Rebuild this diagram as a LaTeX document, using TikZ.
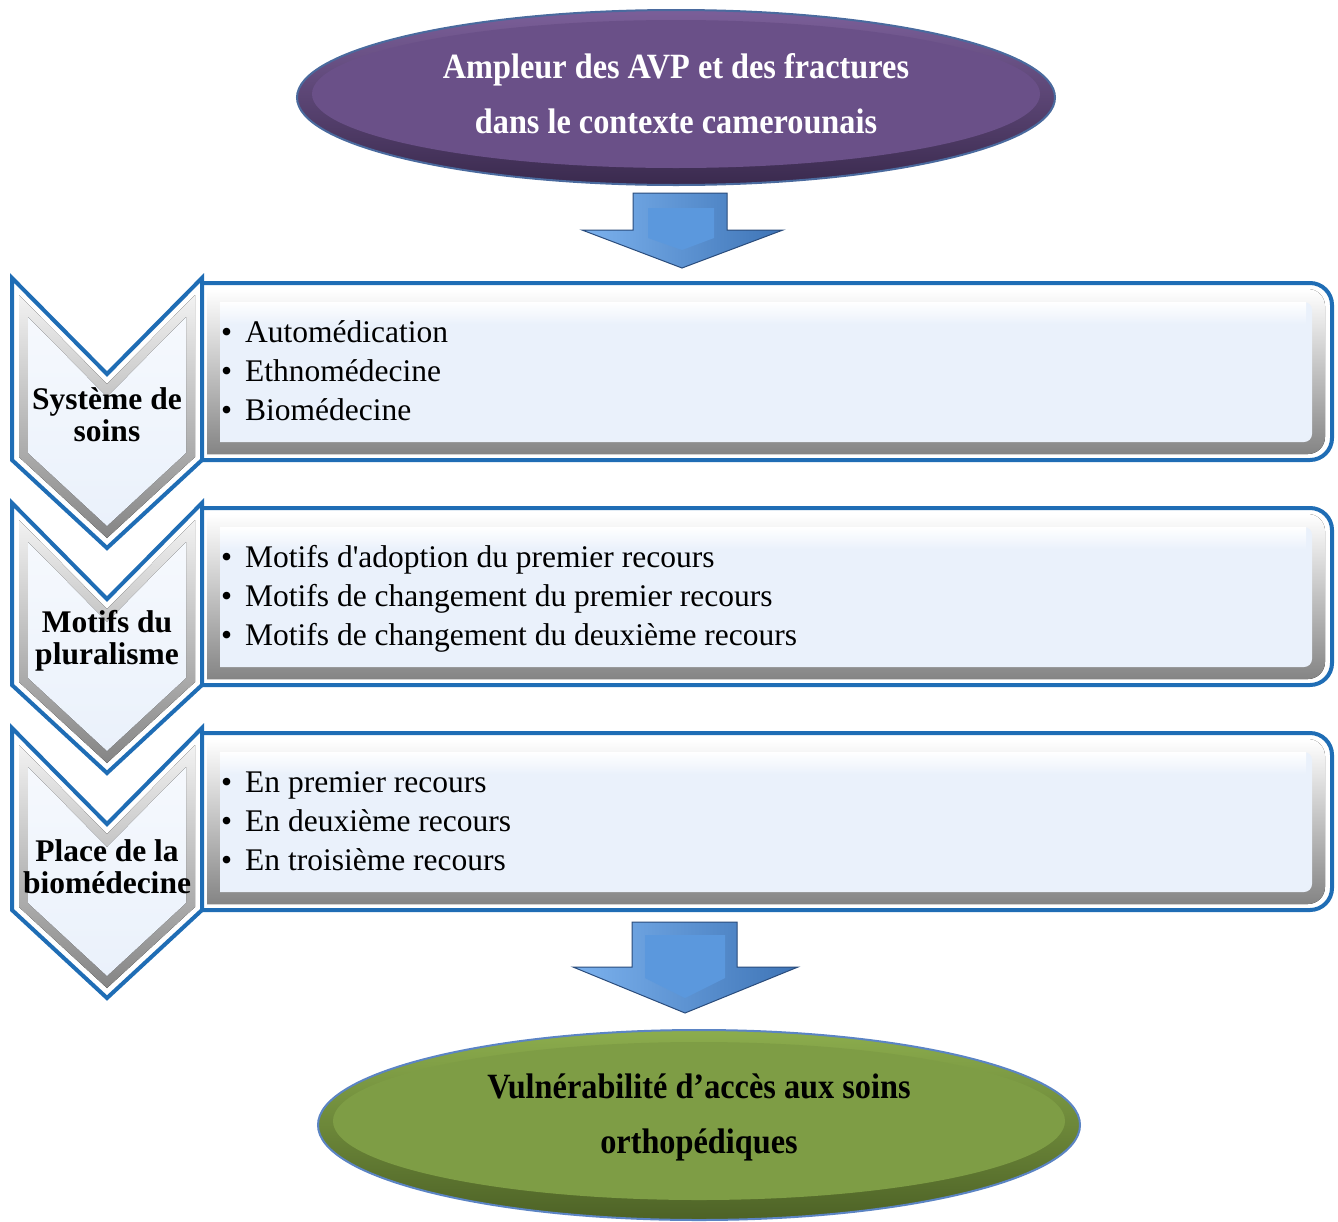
\documentclass[tikz,border=0pt]{standalone}
\usepackage{fontspec}
\setmainfont{Liberation Serif}
\usetikzlibrary{shapes.geometric}
\definecolor{bluebd}{HTML}{1F6DB5}
\definecolor{face}{HTML}{EAF1FB}
\definecolor{purp}{HTML}{6A5088}
\definecolor{purpdk}{HTML}{3A2A4E}
\definecolor{purplt}{HTML}{7B5F99}
\definecolor{grn}{HTML}{7E9D45}
\definecolor{grndk}{HTML}{4D6226}
\definecolor{grnlt}{HTML}{8CAD4D}
\definecolor{rimp}{HTML}{4A6A9E}
\definecolor{rimg}{HTML}{5B84C4}
\definecolor{arrowfill}{HTML}{5B98DD}
\definecolor{arrowlt}{HTML}{7CB2EE}
\definecolor{arrowmd}{HTML}{3E74B6}
\definecolor{arrowdk}{HTML}{2A4C7C}
\tikzset{
  boxline/.style={draw=bluebd, line width=4pt, fill=white, line join=miter},
  bevelshade/.style={top color=white, middle color=white!84!black, bottom color=white!52!black},
  chevbevel/.style={top color=white!95!black, bottom color=white!52!black},
  chevface/.style={top color=white!55!face, bottom color=face},
  itemtext/.style={font=\fontsize{31.5}{38}\selectfont, anchor=base west, inner sep=0pt},
  chevtext/.style={font=\fontsize{31.5}{32}\selectfont\bfseries, align=center, inner sep=0pt},
  elltext/.style={font=\fontsize{32.3}{55}\selectfont\bfseries, align=center, inner sep=0pt},
  arrowouter/.style={draw=arrowdk, line width=1pt, left color=arrowlt, right color=arrowmd},
  arrowface/.style={fill=arrowfill},
}
\newcommand\tallline[1]{\scalebox{1}[1.1]{#1}}
\newcommand\rowbox{%
  \draw[boxline] (200,5) -- (1310,5) arc[start angle=-90,end angle=0,radius=22]
     -- (1332,160) arc[start angle=0,end angle=90,radius=22] -- (200,182) -- cycle;
  \fill[bevelshade] (207,11) -- (1308,11) arc[start angle=-90,end angle=0,radius=17]
     -- (1325,159) arc[start angle=0,end angle=90,radius=17] -- (207,176) -- cycle;
  \fill[fill=face] (220,24) -- (1304,24) arc[start angle=-90,end angle=0,radius=8]
     -- (1312,156) arc[start angle=0,end angle=90,radius=8] -- (220,164) -- cycle;
  \fill[top color=white, bottom color=face] (220,24) rectangle (1306,46);
}
\newcommand\chevshape{%
  \draw[boxline] (12,0) -- (107,96) -- (202,0) -- (202,182) -- (107,270) -- (12,182) -- cycle;
  \fill[chevbevel] (19,17) -- (107,106) -- (195,17) -- (195,179) -- (107,260) -- (19,179) -- cycle;
  \fill[chevface] (28,39) -- (107,119) -- (186,39) -- (186,175) -- (107,248) -- (28,175) -- cycle;
}
\begin{document}
\begin{tikzpicture}[x=1pt,y=-1pt]
\useasboundingbox (0,0) rectangle (1338,1221);
\fill[white] (0,0) rectangle (1338,1221);

% top ellipse
\node[ellipse, minimum width=758pt, minimum height=175pt, inner sep=0pt,
      top color=purplt, bottom color=purpdk, draw=rimp, line width=2pt] (topouter) at (676,97.5) {};
\node[ellipse, minimum width=728pt, minimum height=148pt, inner sep=0pt, fill=purp] (topinner) at (676,94) {};
\node[elltext, text=white] (toptext) at (676,93.5) {\tallline{Ampleur des AVP et des fractures}\\\tallline{dans le contexte camerounais}};

% top arrow
\draw[arrowouter] (633,193) -- (727,193) -- (727,230) -- (783,230) -- (682,268) -- (582,230) -- (633,230) -- cycle;
\fill[arrowface] (648,208) -- (714,208) -- (714,238) -- (682,250) -- (648,238) -- cycle;

% rows
\begin{scope}[shift={(0,278)}]
  \rowbox
  \chevshape
  \node[chevtext] (l1) at (107,137) {Système de\\soins};
  \node[itemtext] (i1a) at (221,64) {\makebox[24pt][l]{\textbullet}Automédication};
  \node[itemtext] (i1b) at (221,103) {\makebox[24pt][l]{\textbullet}Ethnomédecine};
  \node[itemtext] (i1c) at (221,142) {\makebox[24pt][l]{\textbullet}Biomédecine};
\end{scope}
\begin{scope}[shift={(0,503)}]
  \rowbox
  \chevshape
  \node[chevtext] (l2) at (107,138) {Motifs du\\pluralisme};
  \node[itemtext] (i2a) at (221,64) {\makebox[24pt][l]{\textbullet}Motifs d\textquotesingle adoption du premier recours};
  \node[itemtext] (i2b) at (221,103) {\makebox[24pt][l]{\textbullet}Motifs de changement du premier recours};
  \node[itemtext] (i2c) at (221,142) {\makebox[24pt][l]{\textbullet}Motifs de changement du deuxième recours};
\end{scope}
\begin{scope}[shift={(0,728)}]
  \rowbox
  \chevshape
  \node[chevtext] (l3) at (107,139) {Place de la\\biomédecine};
  \node[itemtext] (i3a) at (221,64) {\makebox[24pt][l]{\textbullet}En premier recours};
  \node[itemtext] (i3b) at (221,103) {\makebox[24pt][l]{\textbullet}En deuxième recours};
  \node[itemtext] (i3c) at (221,142) {\makebox[24pt][l]{\textbullet}En troisième recours};
\end{scope}

% bottom arrow
\draw[arrowouter] (632,922) -- (737,922) -- (737,967) -- (798,967) -- (685,1013) -- (573,967) -- (632,967) -- cycle;
\fill[arrowface] (645,935) -- (725,935) -- (725,978) -- (685,998) -- (645,978) -- cycle;

% bottom ellipse
\node[ellipse, minimum width=762pt, minimum height=190pt, inner sep=0pt,
      top color=grnlt, bottom color=grndk, draw=rimg, line width=2pt] (botouter) at (699,1125) {};
\node[ellipse, minimum width=732pt, minimum height=158pt, inner sep=0pt, fill=grn] (botinner) at (699,1121) {};
\node[elltext, text=black] (bottext) at (699,1117.5) {\tallline{Vulnérabilité d’accès aux soins}\\\tallline{orthopédiques}};
\end{tikzpicture}
\end{document}
